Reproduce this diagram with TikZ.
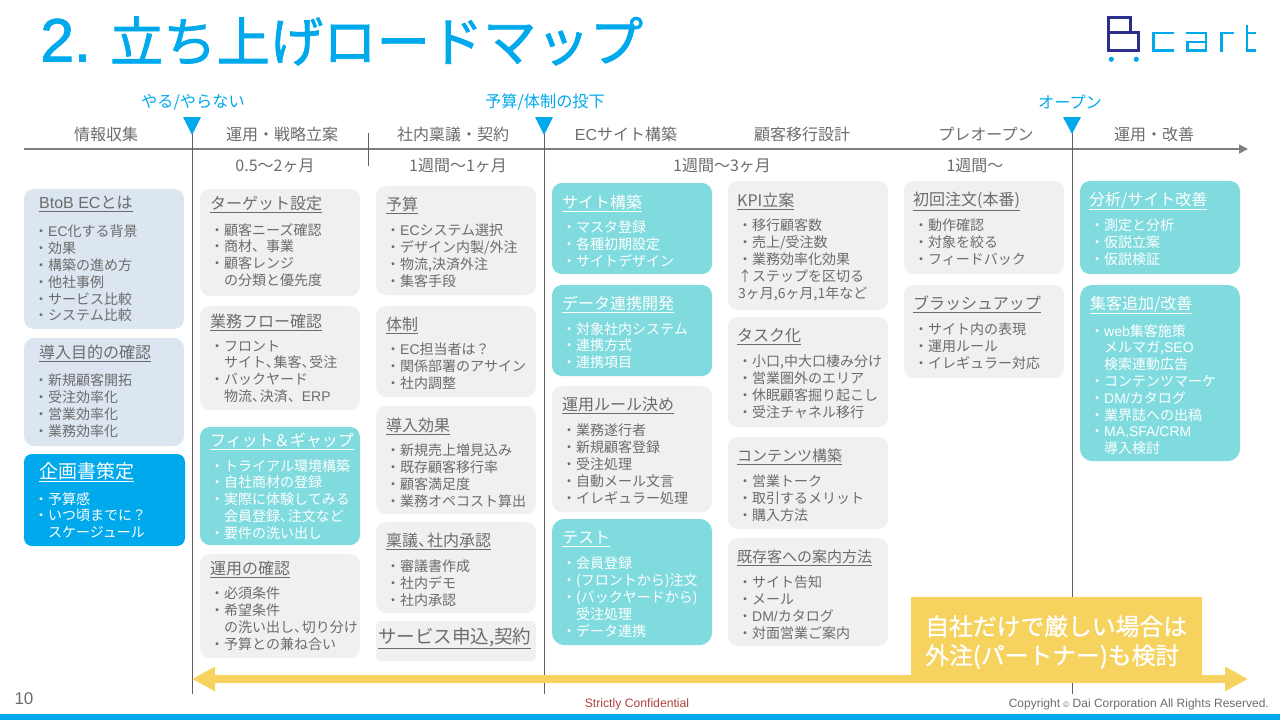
\documentclass[tikz,border=0pt]{standalone}
\usepackage{fontspec}
\setmainfont{Noto Sans CJK JP}
\newfontfamily\latinfont{Liberation Sans}
\newfontfamily\headfont[FakeBold=1.5]{Noto Sans CJK JP}
\newfontfamily\headlatin[FakeBold=1.5]{Liberation Sans}
\newfontfamily\notefont[FakeBold=0.8]{Noto Sans CJK JP}
\newcommand{\lat}[1]{{\latinfont #1}}
\newcommand{\tightcomma}{、\kern-0.45em}
\usepackage{tikz}
\usetikzlibrary{arrows.meta}

\definecolor{brandblue}{HTML}{00A9EB}
\definecolor{brandnavy}{HTML}{2B2E8C}
\definecolor{cardgray}{HTML}{F0F0F0}
\definecolor{cardpale}{HTML}{DCE6F0}
\definecolor{cardteal}{HTML}{80DBDF}
\definecolor{bandyellow}{HTML}{F6D25F}
\definecolor{inkgray}{HTML}{6C6C6C}
\definecolor{linegray}{HTML}{5F5F5F}
\definecolor{axisgray}{HTML}{7F7F7F}
\definecolor{stampred}{HTML}{B0413E}

\tikzset{
    plaincard/.style = {fill = cardgray, rounded corners = 10pt},
    palecard/.style = {fill = cardpale, rounded corners = 10pt},
    tealcard/.style = {fill = cardteal, rounded corners = 10pt},
    cardtitle/.style = {anchor = west, inner sep = 0pt, yshift = -1pt, text = inkgray, font = \fontsize{16}{18}\selectfont},
    cardbody/.style = {anchor = north west, inner sep = 0pt, align = left, yshift = 6pt, text = inkgray, font = \fontsize{14}{16.8}\selectfont},
    whitetext/.style = {text = white},
    phase/.style = {inner sep = 0pt, text = inkgray, font = \fontsize{16}{18}\selectfont},
    span/.style = {inner sep = 0pt, text = inkgray, font = \fontsize{16}{18}\selectfont},
    gate/.style = {inner sep = 0pt, text = brandblue, font = \fontsize{16.2}{18}\selectfont},
    navyline/.style = {draw = brandnavy, line width = 2.8pt},
    logoline/.style = {draw = brandblue, line width = 2.6pt},
}

\begin{document}
\begin{tikzpicture}[x = 1pt, y = -1pt]
\useasboundingbox (0, 0) rectangle (1280, 720);

% heading and logo
    \node[anchor = west, inner sep = 0pt, text = brandblue, font = \fontsize{53.3}{60}\selectfont] (heading) at (40, 41) {{\headlatin\fontsize{61}{60}\selectfont 2.}\hspace{19pt}{\headfont 立ち上げロードマップ}};
    \draw[navyline] (1108.5, 32.5) -- (1108.5, 17.5) -- (1130.5, 17.5) -- (1130.5, 32.5);
    \draw[navyline] (1108.5, 32.5) -- (1138.5, 32.5) -- (1138.5, 50.5) -- (1108.5, 50.5) -- cycle;
    \fill[brandblue] (1111.3, 59.3) circle (2.6);
    \fill[brandblue] (1136.3, 59.3) circle (2.6);
    \draw[logoline] (1174, 33) -- (1153.5, 33) -- (1153.5, 50.5) -- (1174, 50.5);
    \draw[logoline] (1186, 33) -- (1206, 33) -- (1206, 50.5) -- (1187.5, 50.5) -- (1187.5, 42) -- (1206, 42);
    \draw[logoline] (1221.5, 52) -- (1221.5, 33) -- (1234, 33);
    \draw[logoline] (1247, 25) -- (1247, 50.5) -- (1256, 50.5);
    \draw[logoline] (1247, 33) -- (1256, 33);

% timeline
    \draw[draw = axisgray, line width = 1.5pt, -{Triangle[length = 9pt, width = 9pt]}] (24, 149) -- (1248, 149);
    \draw[draw = linegray, line width = 1pt] (192, 130) -- (192, 694);
    \draw[draw = linegray, line width = 1pt] (544, 130) -- (544, 694);
    \draw[draw = linegray, line width = 1pt] (1072, 130) -- (1072, 694);
    \draw[draw = linegray, line width = 1pt] (368, 133) -- (368, 166);
    \fill[brandblue] (183, 117) -- (201, 117) -- (192, 135) -- cycle;
    \fill[brandblue] (535, 117) -- (553, 117) -- (544, 135) -- cycle;
    \fill[brandblue] (1063, 117) -- (1081, 117) -- (1072, 134) -- cycle;
    \node[gate] (gatego) at (193, 102) {やる/やらない};
    \node[gate] (gatebudget) at (545, 102) {予算/体制の投下};
    \node[gate] (gateopen) at (1070, 102) {オープン};

    % phases
    \node[phase] (phaseinfo) at (106, 134) {情報収集};
    \node[phase] (phaseplan) at (282, 134) {運用・戦略立案};
    \node[phase] (phaseringi) at (453, 134) {社内稟議・契約};
    \node[phase] (phasebuild) at (626, 134) {\lat{EC}サイト構築};
    \node[phase] (phasemove) at (802, 134) {顧客移行設計};
    \node[phase] (phasepre) at (986, 134) {プレオープン};
    \node[phase] (phaserun) at (1154, 134) {運用・改善};
    \node[span] (spanplan) at (275, 166) {0.5〜2ヶ月};
    \node[span] (spanringi) at (458, 166) {1週間〜1ヶ月};
    \node[span] (spanbuild) at (722, 166) {1週間〜3ヶ月};
    \node[span] (spanpre) at (975, 166) {1週間〜};

% column 1
    \fill[palecard] (24, 189) rectangle (184, 329);
    \node[cardtitle] (titlebtob) at (39, 203) {\underline{\lat{BtoB EC}とは}};
    \node[cardbody] (bodybtob) at (34, 231) {・\lat{EC}化する背景\\・効果\\・構築の進め方\\・他社事例\\・サービス比較\\・システム比較};
    \fill[palecard] (24, 338) rectangle (184, 446);
    \node[cardtitle] (titlegoal) at (39, 352) {\underline{導入目的の確認}};
    \node[cardbody] (bodygoal) at (34, 380) {・新規顧客開拓\\・受注効率化\\・営業効率化\\・業務効率化};
    \fill[brandblue, rounded corners = 8pt] (24, 454) rectangle (185, 546);
    \node[cardtitle, whitetext, font = \fontsize{19}{22}\selectfont] (titleproposal) at (39, 471) {\underline{企画書策定}};
    \node[cardbody, whitetext] (bodyproposal) at (34, 498) {・予算感\\・いつ頃までに？\\　スケージュール};

% column 2
    \fill[plaincard] (200, 189) rectangle (360, 296);
    \node[cardtitle] (titletarget) at (210, 203) {\underline{ターゲット設定}};
    \node[cardbody] (bodytarget) at (210, 229) {・顧客ニーズ確認\\・商材、事業\\・顧客レンジ\\　の分類と優先度};
    \fill[plaincard] (200, 306) rectangle (360, 410);
    \node[cardtitle] (titleflow) at (210, 321) {\underline{業務フロー確認}};
    \node[cardbody] (bodyflow) at (210, 346) {・フロント\\　サイト\tightcomma 集客\tightcomma 受注\\・バックヤード\\　物流\tightcomma 決済、\lat{ERP}};
    \fill[tealcard] (200, 427) rectangle (360, 545);
    \node[cardtitle, whitetext] (titlefit) at (210, 440) {\underline{フィット＆ギャップ}};
    \node[cardbody, whitetext] (bodyfit) at (210, 465) {・トライアル環境構築\\・自社商材の登録\\・実際に体験してみる\\　会員登録\tightcomma 注文など\\・要件の洗い出し};
    \fill[plaincard] (200, 554) rectangle (360, 658);
    \node[cardtitle] (titlerun) at (210, 568) {\underline{運用の確認}};
    \node[cardbody] (bodyrun) at (210, 593) {・必須条件\\・希望条件\\　の洗い出し\tightcomma 切り分け\\・予算との兼ね合い};

% column 3
    \fill[plaincard] (376, 186) rectangle (536, 295);
    \node[cardtitle] (titlebudget) at (386, 204) {\underline{予算}};
    \node[cardbody] (bodybudget) at (386, 230) {・\lat{EC}システム選択\\・デザイン内製/外注\\・物流,決済外注\\・集客手段};
    \fill[plaincard] (376, 306) rectangle (536, 397);
    \node[cardtitle] (titleteam) at (386, 324) {\underline{体制}};
    \node[cardbody] (bodyteam) at (386, 349) {・\lat{EC}担当者は？\\・関係部署のアサイン\\・社内調整};
    \fill[plaincard] (376, 406) rectangle (536, 514);
    \node[cardtitle] (titleeffect) at (386, 425) {\underline{導入効果}};
    \node[cardbody] (bodyeffect) at (386, 450) {・新規売上増見込み\\・既存顧客移行率\\・顧客満足度\\・業務オペコスト算出};
    \fill[plaincard] (376, 522) rectangle (536, 613);
    \node[cardtitle] (titleringi) at (386, 540) {\underline{稟議\tightcomma 社内承認}};
    \node[cardbody] (bodyringi) at (386, 566) {・審議書作成\\・社内デモ\\・社内承認};
    \fill[plaincard, rounded corners = 4pt] (376, 621) rectangle (536, 661);
    \node[cardtitle, font = \fontsize{18.5}{20}\selectfont] (titlecontract) at (378, 637) {\underline{サービス申込,契約}};

% column 4
    \fill[tealcard] (552, 183) rectangle (712, 274);
    \node[cardtitle, whitetext] (titlesite) at (562, 202) {\underline{サイト構築}};
    \node[cardbody, whitetext] (bodysite) at (562, 227) {・マスタ登録\\・各種初期設定\\・サイトデザイン};
    \fill[tealcard] (552, 285) rectangle (712, 376);
    \node[cardtitle, whitetext] (titledata) at (562, 303) {\underline{データ連携開発}};
    \node[cardbody, whitetext] (bodydata) at (562, 328) {・対象社内システム\\・連携方式\\・連携項目};
    \fill[plaincard] (552, 386) rectangle (712, 512);
    \node[cardtitle] (titlerule) at (562, 404) {\underline{運用ルール決め}};
    \node[cardbody] (bodyrule) at (562, 430) {・業務遂行者\\・新規顧客登録\\・受注処理\\・自動メール文言\\・イレギュラー処理};
    \fill[tealcard, rounded corners = 12pt] (552, 519) rectangle (712, 645);
    \node[cardtitle, whitetext] (titletest) at (562, 538) {\underline{テスト}};
    \node[cardbody, whitetext] (bodytest) at (562, 563) {・会員登録\\・(フロントから)注文\\・(バックヤードから)\\　受注処理\\・データ連携};

% column 5
    \fill[plaincard] (728, 181) rectangle (888, 310);
    \node[cardtitle] (titlekpi) at (737, 200) {\underline{KPI立案}};
    \node[cardbody] (bodykpi) at (738, 225) {・移行顧客数\\・売上/受注数\\・業務効率化効果\\↑ステップを区切る\\3ヶ月,6ヶ月,1年など};
    \fill[plaincard] (728, 317) rectangle (888, 427);
    \node[cardtitle] (titletask) at (737, 336) {\underline{タスク化}};
    \node[cardbody] (bodytask) at (738, 361) {・小口,中大口棲み分け\\・営業圏外のエリア\\・休眠顧客掘り起こし\\・受注チャネル移行};
    \fill[plaincard] (728, 437) rectangle (888, 529);
    \node[cardtitle, font = \fontsize{15}{18}\selectfont] (titlecontent) at (737, 456) {\underline{コンテンツ構築}};
    \node[cardbody] (bodycontent) at (738, 481) {・営業トーク\\・取引するメリット\\・購入方法};
    \fill[plaincard] (728, 538) rectangle (888, 646);
    \node[cardtitle, font = \fontsize{15}{18}\selectfont] (titleguide) at (737, 557) {\underline{既存客への案内方法}};
    \node[cardbody] (bodyguide) at (738, 582) {・サイト告知\\・メール\\・\lat{DM/}カタログ\\・対面営業ご案内};

% column 6
    \fill[plaincard] (904, 181) rectangle (1064, 274);
    \node[cardtitle] (titlefirst) at (913, 200) {\underline{初回注文(本番)}};
    \node[cardbody] (bodyfirst) at (914, 225) {・動作確認\\・対象を絞る\\・フィードバック};
    \fill[plaincard] (904, 285) rectangle (1064, 378);
    \node[cardtitle] (titlebrush) at (913, 303) {\underline{ブラッシュアップ}};
    \node[cardbody] (bodybrush) at (914, 329) {・サイト内の表現\\・運用ルール\\・イレギュラー対応};

% column 7
    \fill[tealcard] (1080, 181) rectangle (1240, 274);
    \node[cardtitle, whitetext] (titleanalysis) at (1089, 200) {\underline{分析/サイト改善}};
    \node[cardbody, whitetext] (bodyanalysis) at (1090, 225) {・測定と分析\\・仮説立案\\・仮説検証};
    \fill[tealcard, rounded corners = 12pt] (1080, 285) rectangle (1240, 461);
    \node[cardtitle, whitetext] (titleattract) at (1090, 304) {\underline{集客追加/改善}};
    \node[cardbody, whitetext] (bodyattract) at (1090, 330) {・\lat{web}集客施策\\　メルマガ,\lat{SEO}\\　検索連動広告\\・コンテンツマーケ\\・\lat{DM/}カタログ\\・業界誌への出稿\\・\lat{MA,SFA/CRM}\\　導入検討};

% outsourcing band
    \coordinate (bandleft) at (192, 679);
    \coordinate (bandright) at (1248, 679);
    \draw[draw = bandyellow, line width = 8pt, {Triangle[length = 23pt, width = 23pt]}-{Triangle[length = 23pt, width = 23pt]}] (bandleft) -- (bandright);
    \fill[bandyellow] (911, 597) rectangle (1202, 682);
    \node[anchor = north west, inner sep = 0pt, align = left, text = white, font = \notefont\fontsize{23.8}{29}\selectfont] (bandnote) at (925, 615) {自社だけで厳しい場合は\\外注(パートナー)も検討};

% footer
    \fill[brandblue] (0, 714) rectangle (1280, 720);
    \node[inner sep = 0pt, text = inkgray, font = \latinfont\fontsize{17}{18}\selectfont] (pagenumber) at (24, 699) {10};
    \node[inner sep = 0pt, text = stampred, font = \latinfont\fontsize{12.2}{14}\selectfont] (confidential) at (637, 704) {Strictly Confidential};
    \node[anchor = east, inner sep = 0pt, text = inkgray, font = \latinfont\fontsize{12}{14}\selectfont] (copyright) at (1269, 704) {Copyright {\fontsize{8}{10}\selectfont ©} Dai Corporation All Rights Reserved.};
\end{tikzpicture}
\end{document}
